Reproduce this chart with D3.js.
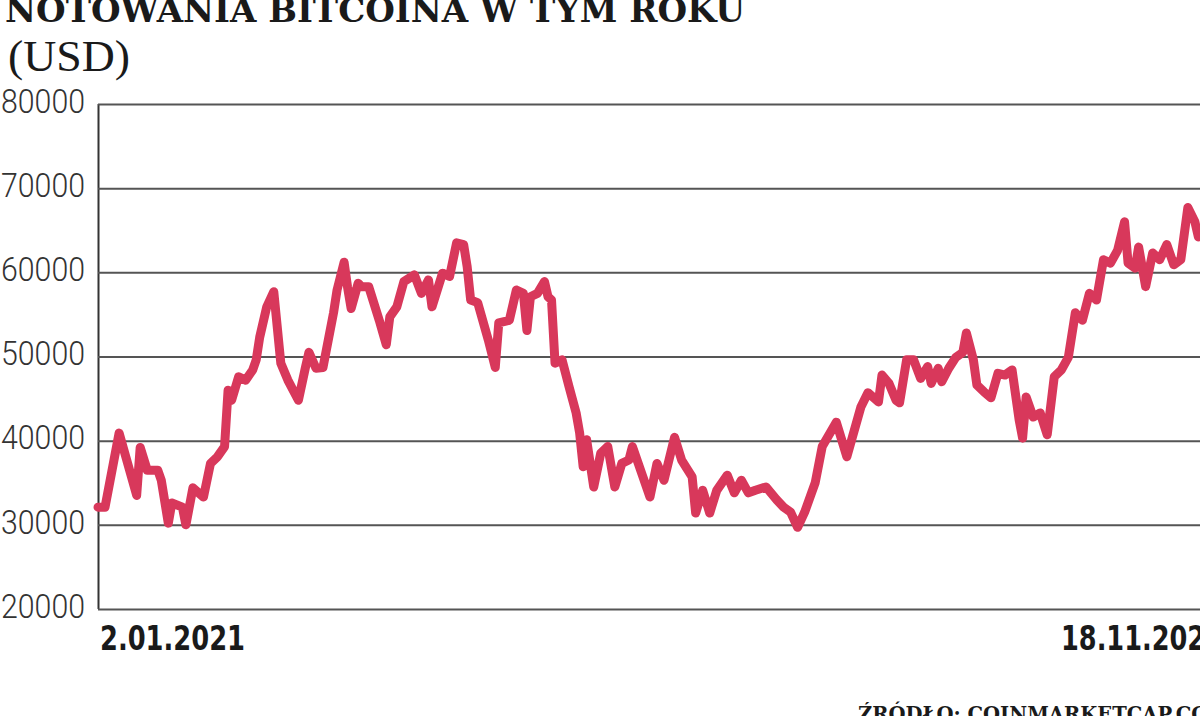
<!DOCTYPE html>
<html>
<head>
<meta charset="utf-8">
<script src="https://cdn.jsdelivr.net/npm/d3@7"></script>
<style>
  html, body { margin: 0; padding: 0; background: #fff; overflow: hidden; }
  svg { display: block; }
</style>
</head>
<body>
<svg id="chart" width="1200" height="716"></svg>
<script>
// ---- data ----
const titleText = "NOTOWANIA BITCOINA W TYM ROKU";
const unitText = "(USD)";
const sourceText = "ŹRÓDŁO: COINMARKETCAP.COM";
const startDate = "2021-01-02";
const endDate = "2021-11-18";
const xTickLabels = ["2.01.2021", "18.11.2021"];
const yTickValues = [20000, 30000, 40000, 50000, 60000, 70000, 80000];

// days since 2.01.2021
const dayIndex = [
  0, 2, 6, 11, 12, 14, 17, 18, 20, 21, 24, 25, 27, 30, 32, 34, 36, 37, 38, 40,
  42, 44, 45, 46, 48, 50, 52, 54, 57, 59, 60, 62, 64, 67, 68, 70, 71, 72, 74, 75,
  77, 80, 82, 83, 85, 87, 90, 92, 94, 95, 98, 100, 102, 104, 105, 106, 108, 111, 113, 114,
  117, 119, 121, 122, 123, 125, 127, 128, 129, 130, 132, 134, 136, 137, 138, 139, 141, 143, 145, 147,
  149, 151, 152, 155, 157, 159, 161, 164, 166, 169, 170, 172, 174, 176, 179, 181, 183, 185, 187, 190,
  193, 195, 197, 199, 201, 204, 206, 210, 213, 217, 219, 222, 223, 225, 227, 228, 230, 232, 234, 236,
  237, 239, 240, 242, 244, 246, 247, 249, 250, 252, 254, 256, 258, 260, 262, 263, 264, 266, 268, 270,
  272, 274, 276, 278, 280, 282, 284, 286, 288, 290, 292, 293, 295, 296, 298, 300, 302, 304, 306, 308,
  310, 312, 313, 316, 318, 320
];
const priceUSD = [
  32100, 32100, 40900, 33500, 39200, 36500, 36500, 35300, 30200, 32600, 32100, 30000, 34400, 33300, 37300, 38100, 39300, 46000, 44800, 47600,
  47200, 48400, 49600, 52300, 55900, 57700, 49200, 47200, 44800, 48700, 50500, 48600, 48700, 55200, 57900, 61200, 58200, 55700, 58700, 58300,
  58300, 54300, 51400, 54700, 55900, 58900, 59700, 57500, 59100, 55900, 59900, 59500, 63500, 63300, 60700, 56700, 56400, 52000, 48700, 54000,
  54300, 57900, 57500, 53100, 57100, 57500, 58900, 57100, 56700, 49200, 49600, 46400, 43300, 40900, 36900, 40100, 34500, 38500, 39300, 34500,
  37300, 37700, 39300, 35700, 33300, 37300, 35300, 40400, 37700, 35700, 31400, 34100, 31400, 34100, 35900, 33800, 35300, 33800, 34100, 34500,
  33000, 32100, 31500, 29700, 31500, 35000, 39300, 42200, 38100, 44000, 45700, 44600, 47800, 46800, 44800, 44500, 49600, 49600, 47400, 48800,
  46800, 48600, 47000, 48600, 49900, 50500, 52800, 49600, 46600, 45800, 45100, 48000, 47800, 48400, 42500, 40300, 45200, 42800, 43300, 40700,
  47600, 48400, 49900, 55200, 54300, 57500, 56700, 61500, 61100, 62600, 66000, 61100, 60500, 63000, 58300, 62300, 61500, 63300, 60900, 61500,
  67700, 66000, 64200, 65000, 60200, 57000
];

// ---- drawing ----
const svg = d3.select("#chart");
const parse = d3.utcParse("%Y-%m-%d");
const t0 = parse(startDate), t1 = parse(endDate);
const plotLeft = 98, plotRight = 1223, plotTop = 104, plotBottom = 609;

const x = d3.scaleUtc().domain([t0, t1]).range([plotLeft, plotRight]);
const y = d3.scaleLinear().domain([20000, 80000]).range([plotBottom, plotTop]);

const data = dayIndex.map((d, i) => ({ date: d3.utcDay.offset(t0, d), value: priceUSD[i] }));

// title
svg.append("text")
  .attr("x", 5).attr("y", 22)
  .attr("font-family", "DejaVu Serif")
  .attr("font-weight", "bold")
  .attr("font-size", 34)
  .attr("fill", "#1a1a1a")
  .attr("textLength", 740).attr("lengthAdjust", "spacingAndGlyphs")
  .text(titleText);

svg.append("text")
  .attr("x", 8).attr("y", 71)
  .attr("font-family", "Liberation Serif")
  .attr("font-size", 44)
  .attr("fill", "#1a1a1a")
  .attr("textLength", 122).attr("lengthAdjust", "spacingAndGlyphs")
  .text(unitText);

// y axis with gridlines
const yAxis = d3.axisLeft(y)
  .tickValues(yTickValues)
  .tickSize(-(plotRight - plotLeft))
  .tickPadding(13)
  .tickFormat(d3.format("d"));

const gy = svg.append("g")
  .attr("transform", `translate(${plotLeft},0)`)
  .call(yAxis);
gy.select(".domain")
  .attr("stroke", "#333").attr("stroke-width", 2)
  .attr("d", `M0.5,${plotTop}V${plotBottom}`);
gy.selectAll(".tick line").attr("stroke", "#555").attr("stroke-width", 2);
gy.selectAll(".tick text")
  .attr("font-family", "Roboto, 'DejaVu Sans Condensed', sans-serif")
  .attr("font-weight", 300)
  .attr("font-size", 33)
  .attr("fill", "#333")
  .attr("dy", "0.25em")
  .attr("textLength", 84).attr("lengthAdjust", "spacingAndGlyphs");

// x labels
const xTickDates = [t0, t1];
svg.append("g").selectAll("text")
  .data(xTickLabels)
  .join("text")
  .attr("x", (d, i) => i === 0 ? x(xTickDates[0]) + 2 : x(xTickDates[1]))
  .attr("y", 650)
  .attr("text-anchor", (d, i) => i === 0 ? "start" : "end")
  .attr("font-family", "'DejaVu Sans Condensed', 'DejaVu Sans', sans-serif")
  .attr("font-weight", "bold")
  .attr("font-size", 34)
  .attr("fill", "#1a1a1a")
  .attr("textLength", (d, i) => i === 0 ? 145 : 162)
  .attr("lengthAdjust", "spacingAndGlyphs")
  .text(d => d);

// line
const line = d3.line()
  .x(d => x(d.date))
  .y(d => y(d.value))
  .curve(d3.curveLinear);

svg.append("path")
  .datum(data)
  .attr("fill", "none")
  .attr("stroke", "#d8385b")
  .attr("stroke-width", 9)
  .attr("stroke-linejoin", "round")
  .attr("stroke-linecap", "round")
  .attr("d", line);

// source
svg.append("text")
  .attr("x", 858).attr("y", 721)
  .attr("font-family", "DejaVu Serif")
  .attr("font-weight", "bold")
  .attr("font-size", 20)
  .attr("fill", "#1a1a1a")
  .attr("textLength", 372).attr("lengthAdjust", "spacingAndGlyphs")
  .text(sourceText);
</script>
</body>
</html>
